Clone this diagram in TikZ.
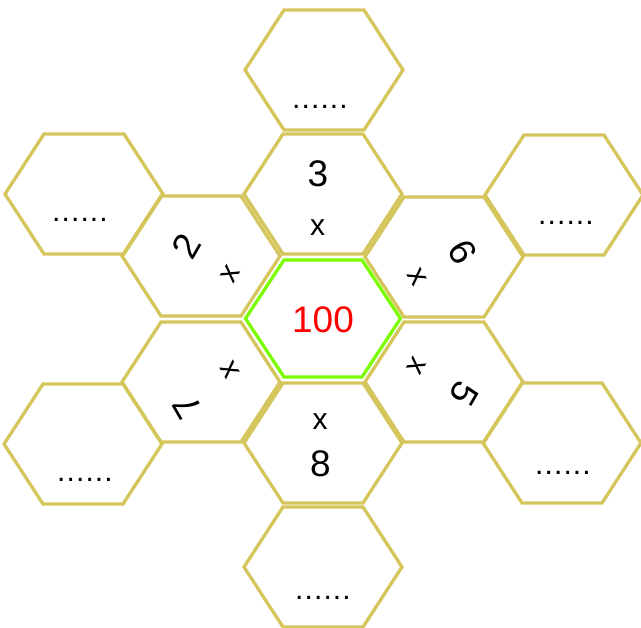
\documentclass[tikz,border=0pt]{standalone}
\usepackage{fontspec}
\setmainfont{Liberation Sans}
\definecolor{hexyellow}{RGB}{212,198,92}
\definecolor{hexgreen}{RGB}{124,252,0}
\definecolor{numred}{RGB}{255,0,0}
\newcommand\dotrow{.\kern1.1pt.\kern1.1pt.\kern1.1pt.\kern1.1pt.\kern1.1pt.}
\tikzset{
  hexline/.style={draw=hexyellow, line width=3.3pt, line join=miter},
  greenline/.style={draw=hexgreen, line width=3.3pt, line join=miter},
  yellowhex/.pic={\draw[hexline] (-79,0) -- (-40,-60) -- (40,-60) -- (79,0) -- (40,60) -- (-40,60) -- cycle;},
  greenhex/.pic={\draw[greenline] (-77.5,0) -- (-39,-58.5) -- (39,-58.5) -- (77.5,0) -- (39,58.5) -- (-39,58.5) -- cycle;},
  numtext/.style={inner sep=0pt, font=\fontsize{37}{37}\selectfont},
  timestext/.style={inner sep=0pt, font=\fontsize{30}{30}\selectfont},
  dottext/.style={inner sep=0pt, font=\fontsize{30}{30}\selectfont},
}
\begin{document}
\begin{tikzpicture}[x=1pt,y=-1pt]
\useasboundingbox[fill=white] (0,0) rectangle (641,628);
% hexagon centres
\coordinate (htop) at (324,70);
\coordinate (hthree) at (323,194);
\coordinate (hcenter) at (323,318.5);
\coordinate (height) at (323,443);
\coordinate (hbottom) at (323,567);
\coordinate (htwo) at (201,256);
\coordinate (hseven) at (201,382);
\coordinate (hsix) at (444,257);
\coordinate (hfive) at (444,382);
\coordinate (hflu) at (84,194);
\coordinate (hfll) at (83,444);
\coordinate (hfru) at (564,195);
\coordinate (hfrl) at (562,443);
% yellow hexagons
\foreach \h in {htop,hthree,height,hbottom,htwo,hseven,hsix,hfive,hflu,hfll,hfru,hfrl}
  \pic at (\h) {yellowhex};
% centre hexagon
\pic at (hcenter) {greenhex};
% texts
\node[numtext, text=numred] (hundred) at (323,320) {100};
\node[numtext] (nthree) at (318,174) {3};
\node[timestext] (xthree) at (317.5,228) {x};
\node[numtext, rotate=60] (ntwo) at (186,246) {2};
\node[timestext, rotate=60] (xtwo) at (230,274) {x};
\node[numtext, rotate=120] (nseven) at (187,407) {7};
\node[timestext, rotate=120] (xseven) at (230,370) {x};
\node[numtext, rotate=-60] (nsix) at (463,252) {6};
\node[timestext, rotate=-60] (xsix) at (417,277) {x};
\node[numtext, rotate=-120] (nfive) at (464,394) {5};
\node[timestext, rotate=-120] (xfive) at (417,366) {x};
\node[numtext] (neight) at (320.5,464) {8};
\node[timestext] (xeight) at (320,422) {x};
% blanks
\node[dottext] (dtop) at (320,107) {\dotrow};
\node[dottext] (dbottom) at (323,598) {\dotrow};
\node[dottext] (dflu) at (80,220) {\dotrow};
\node[dottext] (dfll) at (85,480) {\dotrow};
\node[dottext] (dfru) at (566,223) {\dotrow};
\node[dottext] (dfrl) at (563,473) {\dotrow};
\end{tikzpicture}
\end{document}
